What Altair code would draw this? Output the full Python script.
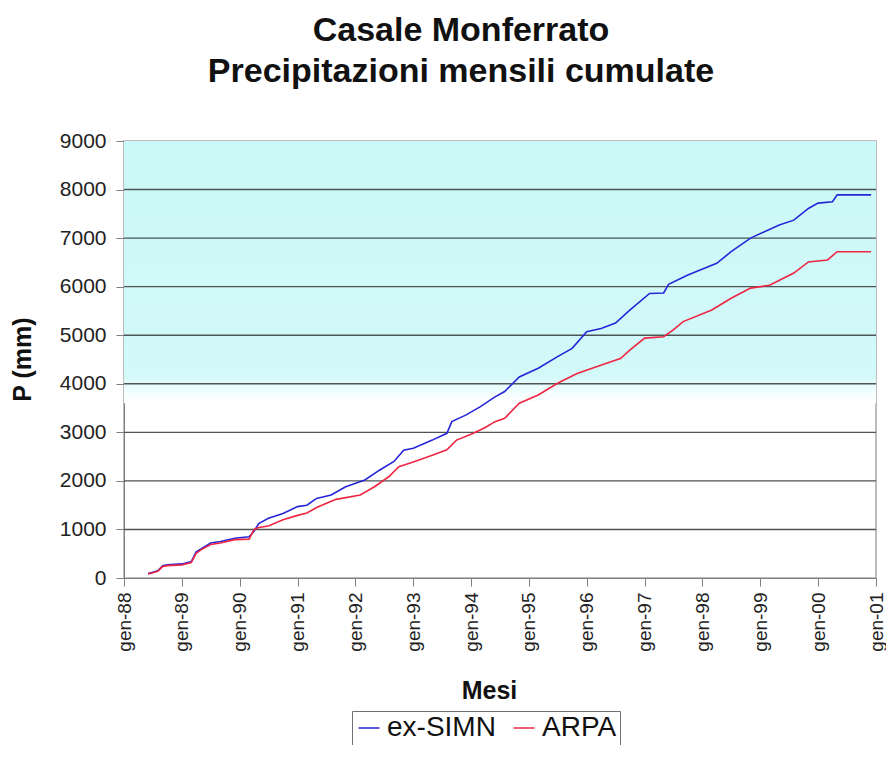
import altair as alt
import pandas as pd

# ---- data (cumulative mm) ----
simn_months = ["1988-06", "1988-07", "1988-08", "1988-09", "1988-10", "1989-01", "1989-03",
               "1989-04", "1989-05", "1989-07", "1989-09", "1989-12", "1990-03", "1990-04",
               "1990-05", "1990-07", "1990-10", "1991-01", "1991-03", "1991-05", "1991-08",
               "1991-11", "1992-03", "1992-06", "1992-09", "1992-11", "1993-01", "1993-05",
               "1993-08", "1993-09", "1993-12", "1994-03", "1994-06", "1994-08", "1994-11",
               "1995-03", "1995-07", "1995-10", "1996-01", "1996-04", "1996-07", "1996-10",
               "1997-02", "1997-05", "1997-06", "1997-10", "1998-04", "1998-07", "1998-11",
               "1999-05", "1999-08", "1999-11", "2000-01", "2000-04", "2000-05", "2000-12"]
simn_values = [90, 120, 150, 250, 270, 290, 340,
               540, 600, 720, 750, 820, 850, 960,
               1120, 1230, 1330, 1470, 1500, 1640, 1710,
               1880, 2020, 2220, 2400, 2630, 2670, 2840,
               2980, 3220, 3360, 3530, 3730, 3840, 4140,
               4320, 4560, 4730, 5070, 5140, 5250, 5520,
               5860, 5870, 6050, 6240, 6480, 6720, 7000,
               7270, 7370, 7610, 7720, 7750, 7890, 7890]

arpa_months = ["1988-06", "1988-07", "1988-08", "1988-09", "1988-10", "1989-01", "1989-03",
               "1989-04", "1989-05", "1989-07", "1989-09", "1989-12", "1990-03", "1990-04",
               "1990-05", "1990-07", "1990-10", "1991-01", "1991-03", "1991-05", "1991-09",
               "1992-02", "1992-05", "1992-08", "1992-10", "1993-01", "1993-05", "1993-08",
               "1993-10", "1994-01", "1994-04", "1994-06", "1994-08", "1994-11", "1995-03",
               "1995-07", "1995-11", "1996-05", "1996-08", "1996-10", "1997-01", "1997-05",
               "1997-07", "1997-09", "1998-03", "1998-07", "1998-11", "1999-03", "1999-08",
               "1999-11", "2000-03", "2000-05", "2000-12"]
arpa_values = [85, 110, 140, 235, 255, 270, 320,
               510, 580, 690, 720, 790, 800, 1000,
               1040, 1070, 1200, 1290, 1340, 1450, 1620,
               1710, 1880, 2090, 2290, 2390, 2530, 2640,
               2840, 2960, 3100, 3220, 3290, 3600, 3770,
               4010, 4210, 4420, 4520, 4700, 4940, 4970,
               5110, 5280, 5520, 5760, 5970, 6030, 6280,
               6510, 6550, 6720, 6720]

series_names = ["ex-SIMN", "ARPA"]
series_colors = ["#2626d8", "#ee2642"]
tick_years = list(range(1988, 2002))
y_ticks = [0, 1000, 2000, 3000, 4000, 5000, 6000, 7000, 8000, 9000]
band_top, band_bottom = 9000, 3600

df = pd.concat([
    pd.DataFrame({"mese": [m + "-01" for m in simn_months], "P": simn_values, "serie": series_names[0]}),
    pd.DataFrame({"mese": [m + "-01" for m in arpa_months], "P": arpa_values, "serie": series_names[1]}),
])

W, H = 752, 437
FONT = "Liberation Sans"

xscale = alt.Scale(type="utc",
                   domain=[alt.DateTime(year=1988, month=1, date=1, utc=True),
                           alt.DateTime(year=2001, month=1, date=1, utc=True)],
                   nice=False)
yscale = alt.Scale(domain=[0, 9000], nice=False)

yaxis = alt.Axis(values=y_ticks, format="d", grid=False, tickSize=8, tickColor="#808080",
                 domainColor="#808080", labelFontSize=21, labelPadding=10,
                 labelColor="#222",
                 title="P (mm)", titleFontSize=25, titleFontWeight="bold",
                 titleAngle=270, titleX=-102, titleY=218, titleAlign="center",
                 titleBaseline="middle", titleColor="#111")

band = alt.Chart(pd.DataFrame({"top": [band_top], "bot": [band_bottom]})).mark_rect(
    color=alt.Gradient(
        gradient="linear",
        stops=[alt.GradientStop(color="#cbf8f8", offset=0),
               alt.GradientStop(color="#d3f9f9", offset=0.9),
               alt.GradientStop(color="#e8fcfc", offset=0.93),
               alt.GradientStop(color="#ffffff", offset=1)],
        x1=0, x2=0, y1=0, y2=1),
).encode(
    x=alt.value(0), x2=alt.value(W),
    y=alt.Y("top:Q", scale=yscale, axis=yaxis),
    y2="bot:Q",
)

grid = alt.Chart(pd.DataFrame({"v": y_ticks[1:-1]})).mark_rule(
    color="#4d5555", strokeWidth=1.4
).encode(y=alt.Y("v:Q", scale=yscale, axis=yaxis))

lines = alt.Chart(df).mark_line(strokeWidth=1.6).encode(
    x=alt.X("mese:T", scale=xscale,
            axis=alt.Axis(values=[alt.DateTime(year=y, month=1, date=1, utc=True) for y in tick_years],
                          labelExpr="'gen-' + utcFormat(datum.value, '%y')",
                          labelAngle=270, labelFontSize=19, labelColor="#222",
                          labelPadding=6, tickSize=8, tickColor="#808080",
                          domainColor="#808080", grid=False,
                          title="Mesi", titleFontSize=25, titleFontWeight="bold",
                          titleX=365, titleY=112, titleBaseline="middle", titleColor="#111")),
    y=alt.Y("P:Q", scale=yscale, axis=yaxis),
    color=alt.Color("serie:N",
                    scale=alt.Scale(domain=series_names, range=series_colors),
                    legend=alt.Legend(orient="none", legendX=228, legendY=570,
                                      direction="horizontal", title=None,
                                      labelFontSize=28, labelColor="#111",
                                      symbolType="stroke", symbolSize=440,
                                      symbolStrokeWidth=1.5, strokeColor="#707070",
                                      padding=3, columnPadding=14, labelOffset=4)),
)

chart = alt.layer(band, grid, lines).properties(
    width=W, height=H,
    title=alt.TitleParams(text=["Casale Monferrato", "Precipitazioni mensili cumulate"],
                          fontSize=34, fontWeight="bold", font=FONT, color="#111",
                          anchor="middle", dx=-39, offset=41, lineHeight=41),
    autosize=alt.AutoSizeParams(type="none"),
    padding={"left": 116, "top": 133, "right": 10, "bottom": 167},
).configure(font=FONT).configure_view(stroke="#a8a8a8", strokeWidth=1.5)

chart.save("out.html", embed_options={"renderer": "svg", "actions": False})
